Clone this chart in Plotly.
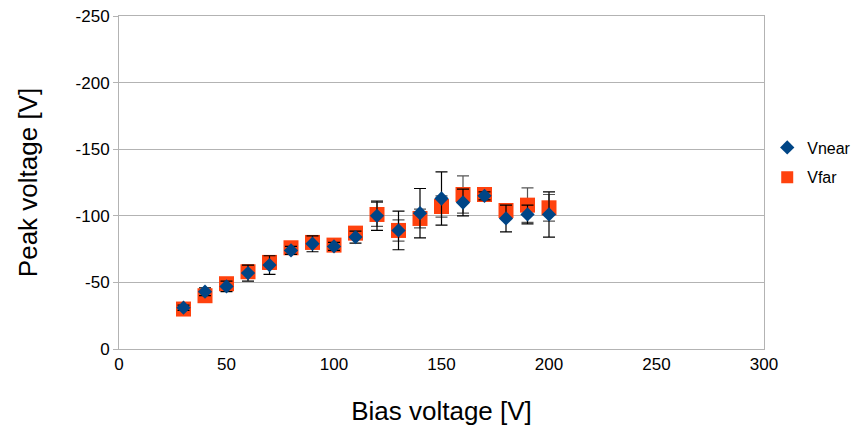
import plotly.graph_objects as go

bias = [30, 40, 50, 60, 70, 80, 90, 100, 110, 120, 130, 140, 150, 160, 170, 180, 190, 200]
vnear = [-31, -43, -47, -57, -63, -74, -79, -77, -84, -100, -89, -102, -113, -110, -115, -98, -101, -101]
vnear_err = [2, 3, 4, 6, 7, 3, 6, 3, 4.5, 11, 14.5, 18.5, 20, 10, 3, 10, 7, 17]
vfar = [-30, -40, -49, -58, -65, -76, -80, -78, -87, -101, -89, -98, -107, -116, -116, -104, -108, -106]
vfar_err = [2, 3, 3, 5, 5, 3, 4, 3, 3, 9, 8, 7, 8, 14, 3, 4, 13, 10]

y_ticks = [0, -50, -100, -150, -200, -250]
y_ticktext = ["0", "-50", "-100", "-150", "-200", "-250"]
x_ticks = [0, 50, 100, 150, 200, 250, 300]

font = "Liberation Sans, Arial, sans-serif"

fig = go.Figure()
fig.add_trace(go.Scatter(
    x=bias, y=vfar, mode="markers", name="Vfar", legendgroup="far",
    marker=dict(symbol="square", size=15, color="#ff420e"),
    error_y=dict(type="data", array=vfar_err, color="#555555", thickness=1.2, width=6),
    showlegend=False,
))
fig.add_trace(go.Scatter(
    x=bias, y=vnear, mode="markers", name="Vnear", legendgroup="near",
    marker=dict(symbol="diamond", size=11, color="#004586"),
    error_y=dict(type="data", array=vnear_err, color="black", thickness=1.2, width=6),
))
# legend entry for Vfar (placed after Vnear)
fig.add_trace(go.Scatter(
    x=[None], y=[None], mode="markers", name="Vfar", legendgroup="far",
    marker=dict(symbol="square", size=12, color="#ff420e"),
))

fig.update_layout(
    width=854, height=418,
    margin=dict(l=111, r=98, t=8, b=77, autoexpand=False),
    paper_bgcolor="white", plot_bgcolor="white",
    font=dict(family=font, size=17, color="black"),
    legend=dict(x=1.005, y=0.56, xanchor="left", yanchor="middle",
                font=dict(size=16), traceorder="grouped", tracegroupgap=6,
                itemwidth=30),
    xaxis=dict(
        range=[0, 300], tickvals=x_ticks, showgrid=False, automargin=False,
        showline=True, linecolor="#b3b3b3", linewidth=1, mirror=True,
        ticks="", zeroline=False, ticklabeloverflow="allow",
        title=dict(text="Bias voltage [V]", font=dict(size=26), standoff=28),
    ),
    yaxis=dict(
        range=[0, -250], tickvals=y_ticks, ticktext=y_ticktext, automargin=False,
        showgrid=True, gridcolor="#b3b3b3", gridwidth=1,
        showline=True, linecolor="#b3b3b3", linewidth=1, mirror=True,
        ticks="outside", ticklen=5, tickcolor="#b3b3b3", zeroline=False,
        ticklabeloverflow="allow",
        title=dict(text="Peak voltage [V]", font=dict(size=26), standoff=30),
    ),
)

fig.write_html("out.html")
